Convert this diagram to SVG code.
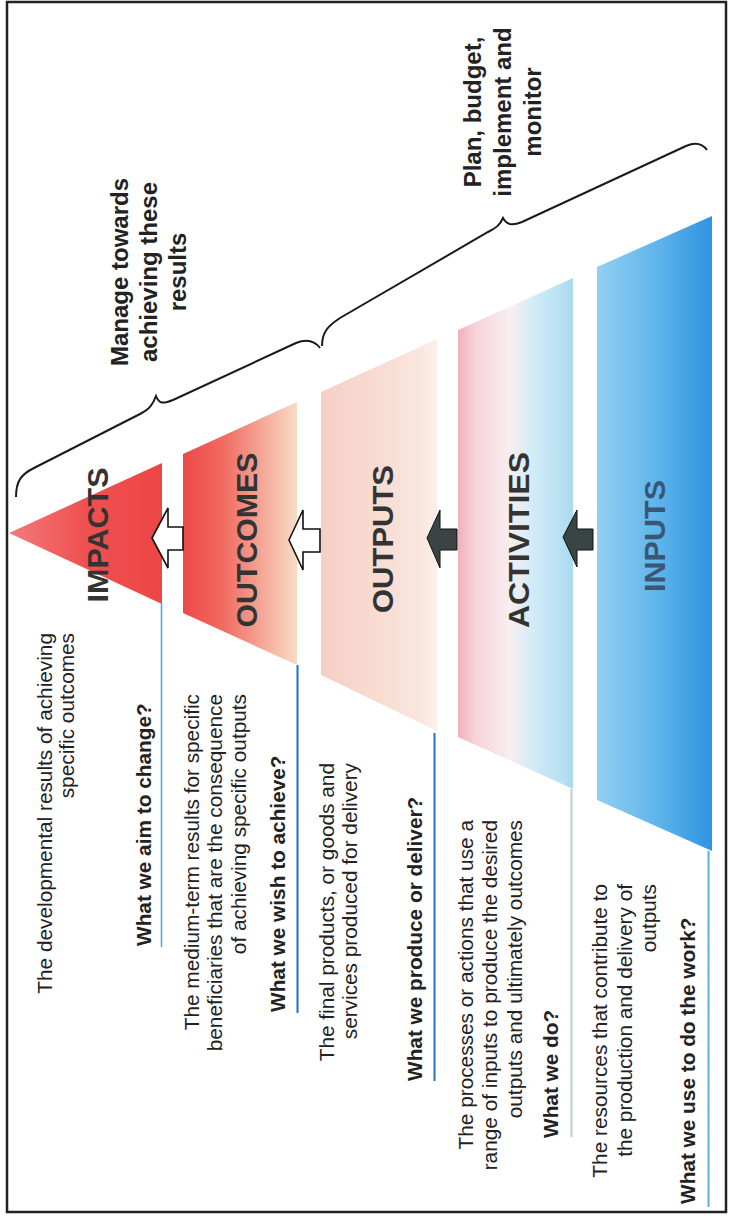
<svg xmlns="http://www.w3.org/2000/svg" width="729" height="1218" viewBox="0 0 729 1218">
<defs>
<linearGradient id="gImp" x1="0" y1="0" x2="1" y2="0">
<stop offset="0" stop-color="#f47a7a"/><stop offset="0.5" stop-color="#ef5050"/><stop offset="1" stop-color="#ec4646"/>
</linearGradient>
<linearGradient id="gOutc" x1="0" y1="0" x2="1" y2="0">
<stop offset="0" stop-color="#ee4848"/><stop offset="0.35" stop-color="#f06a60"/><stop offset="0.7" stop-color="#f5a898"/><stop offset="1" stop-color="#f8dcc6"/>
</linearGradient>
<linearGradient id="gOutp" x1="0" y1="0" x2="1" y2="0">
<stop offset="0" stop-color="#f5cfc6"/><stop offset="0.5" stop-color="#f8dcd2"/><stop offset="0.85" stop-color="#fae6de"/><stop offset="1" stop-color="#fbefea"/>
</linearGradient>
<linearGradient id="gAct" x1="0" y1="0" x2="1" y2="0">
<stop offset="0" stop-color="#f1b1ba"/><stop offset="0.15" stop-color="#f6d3d9"/><stop offset="0.45" stop-color="#f8eef0"/><stop offset="0.65" stop-color="#d2ecf6"/><stop offset="1" stop-color="#aadbf1"/>
</linearGradient>
<linearGradient id="gInp" x1="0" y1="0" x2="1" y2="0">
<stop offset="0" stop-color="#93d0f1"/><stop offset="0.5" stop-color="#62b6eb"/><stop offset="1" stop-color="#2f94e0"/>
</linearGradient>
</defs>
<style>
.d{font-family:"Liberation Sans",Arial,sans-serif;font-size:20.8px;fill:#222}
.e{text-anchor:end}
.q{font-weight:bold}
.lab{font-family:"Liberation Sans",Arial,sans-serif;font-size:29px;font-weight:bold;fill:#333;text-anchor:middle}
.br{fill:none;stroke:#1a1a1a;stroke-width:2}
.bt{font-family:"Liberation Sans",Arial,sans-serif;font-size:24px;font-weight:bold;fill:#222;text-anchor:middle}
.hol{fill:#fff;stroke:#111;stroke-width:1.6;stroke-linejoin:miter}
.dark{fill:#3b4444;stroke:#111;stroke-width:1}
</style>
<rect x="0" y="0" width="729" height="1218" fill="#fff"/>
<rect x="7" y="2" width="719" height="1210" fill="none" stroke="#222" stroke-width="2.5"/>

<g id="impacts">
<polygon points="9,533 162,463 162,604" fill="url(#gImp)"/>
<text class="lab" transform="rotate(-90)" x="-535" y="108" textLength="135" lengthAdjust="spacingAndGlyphs">IMPACTS</text>
<text class="d e" transform="rotate(-90)"><tspan x="-633" y="52">The developmental results of achieving</tspan><tspan x="-633" y="74">specific outcomes</tspan></text>
<line x1="161.5" y1="602" x2="161.5" y2="947" stroke="#45a5e0" stroke-width="1.5"/>
<text class="d q" transform="rotate(-90)" x="-946" y="151">What we aim to change?</text>
</g>

<g id="outcomes">
<polygon points="183,454 297,402 297,665 183,613" fill="url(#gOutc)"/>
<text class="lab" transform="rotate(-90)" x="-540" y="257" textLength="175" lengthAdjust="spacingAndGlyphs">OUTCOMES</text>
<text class="d e" transform="rotate(-90)"><tspan x="-694" y="199">The medium-term results for specific</tspan><tspan x="-694" y="222">beneficiaries that are the consequence</tspan><tspan x="-694" y="246">of achieving specific outputs</tspan></text>
<line x1="297.5" y1="665" x2="297.5" y2="1013" stroke="#1a6fc8" stroke-width="2"/>
<text class="d q" transform="rotate(-90)" x="-1012" y="285">What we wish to achieve?</text>
</g>

<g id="outputs">
<polygon points="321,392 437,339 437,731 321,675" fill="url(#gOutp)"/>
<text class="lab" transform="rotate(-90)" x="-539" y="393" textLength="148" lengthAdjust="spacingAndGlyphs">OUTPUTS</text>
<text class="d e" transform="rotate(-90)"><tspan x="-763" y="334">The final products, or goods and</tspan><tspan x="-763" y="357">services produced for delivery</tspan></text>
<line x1="434.5" y1="733" x2="434.5" y2="1081" stroke="#1f78c0" stroke-width="2"/>
<text class="d q" transform="rotate(-90)" x="-1081" y="422">What we produce or deliver?</text>
</g>

<g id="activities">
<polygon points="458,330 573,278 573,789 458,737" fill="url(#gAct)"/>
<text class="lab" transform="rotate(-90)" x="-540" y="529" textLength="176" lengthAdjust="spacingAndGlyphs">ACTIVITIES</text>
<text class="d e" transform="rotate(-90)"><tspan x="-820" y="473">The processes or actions that use a</tspan><tspan x="-820" y="497">range of inputs to produce the desired</tspan><tspan x="-820" y="522">outputs and ultimately outcomes</tspan></text>
<line x1="571.5" y1="789" x2="571.5" y2="1137" stroke="#b9cbd4" stroke-width="2"/>
<text class="d q" transform="rotate(-90)" x="-1138" y="558">What we do?</text>
</g>

<g id="inputs">
<polygon points="597,267 712,216 712,851 597,800" fill="url(#gInp)"/>
<text class="lab" transform="rotate(-90)" x="-536" y="665" textLength="112" lengthAdjust="spacingAndGlyphs" style="fill:#3a5675">INPUTS</text>
<text class="d e" transform="rotate(-90)"><tspan x="-884" y="607">The resources that contribute to</tspan><tspan x="-884" y="632">the production and delivery of</tspan><tspan x="-884" y="656">outputs</tspan></text>
<line x1="708.5" y1="851" x2="708.5" y2="1207" stroke="#5aaee4" stroke-width="2"/>
<text class="d q" transform="rotate(-90)" x="-1204" y="695">What we use to do the work?</text>
</g>

<g id="connectors">
<path class="hol" d="M152,538 L168,508 L168,527 L183,527 L183,550 L168,550 L168,568 Z"/>
<path class="hol" d="M289,540 L303,510 L303,529 L320,529 L320,552 L303,552 L303,570 Z"/>
<path class="dark" d="M427,538 L440,510 L440,529 L457,529 L457,550 L440,550 L440,568 Z"/>
<path class="dark" d="M563,537 L577,510 L577,529 L593,529 L593,550 L577,550 L577,567 Z"/>
</g>

<g id="brackets">
<path class="br" d="M16,497 C16,480 22,474 34,468 L140,414 C150,409 153,404 156,396 C159,404 163,404 173,400 L296,343 C306,339 314,340 320,348"/>
<path class="br" d="M322,346 C322,332 328,326 340,318 L488,232 C496,228 500,225 503,218 C507,225 512,226 522,222 L686,146 C695,142 702,143 707,150"/>
<text class="bt" transform="rotate(-90)"><tspan x="-272" y="128">Manage towards</tspan><tspan x="-272" y="157">achieving these</tspan><tspan x="-272" y="186">results</tspan></text>
<text class="bt" transform="rotate(-90)"><tspan x="-112" y="481">Plan, budget,</tspan><tspan x="-112" y="511">implement and</tspan><tspan x="-112" y="541">monitor</tspan></text>
</g>
</svg>
